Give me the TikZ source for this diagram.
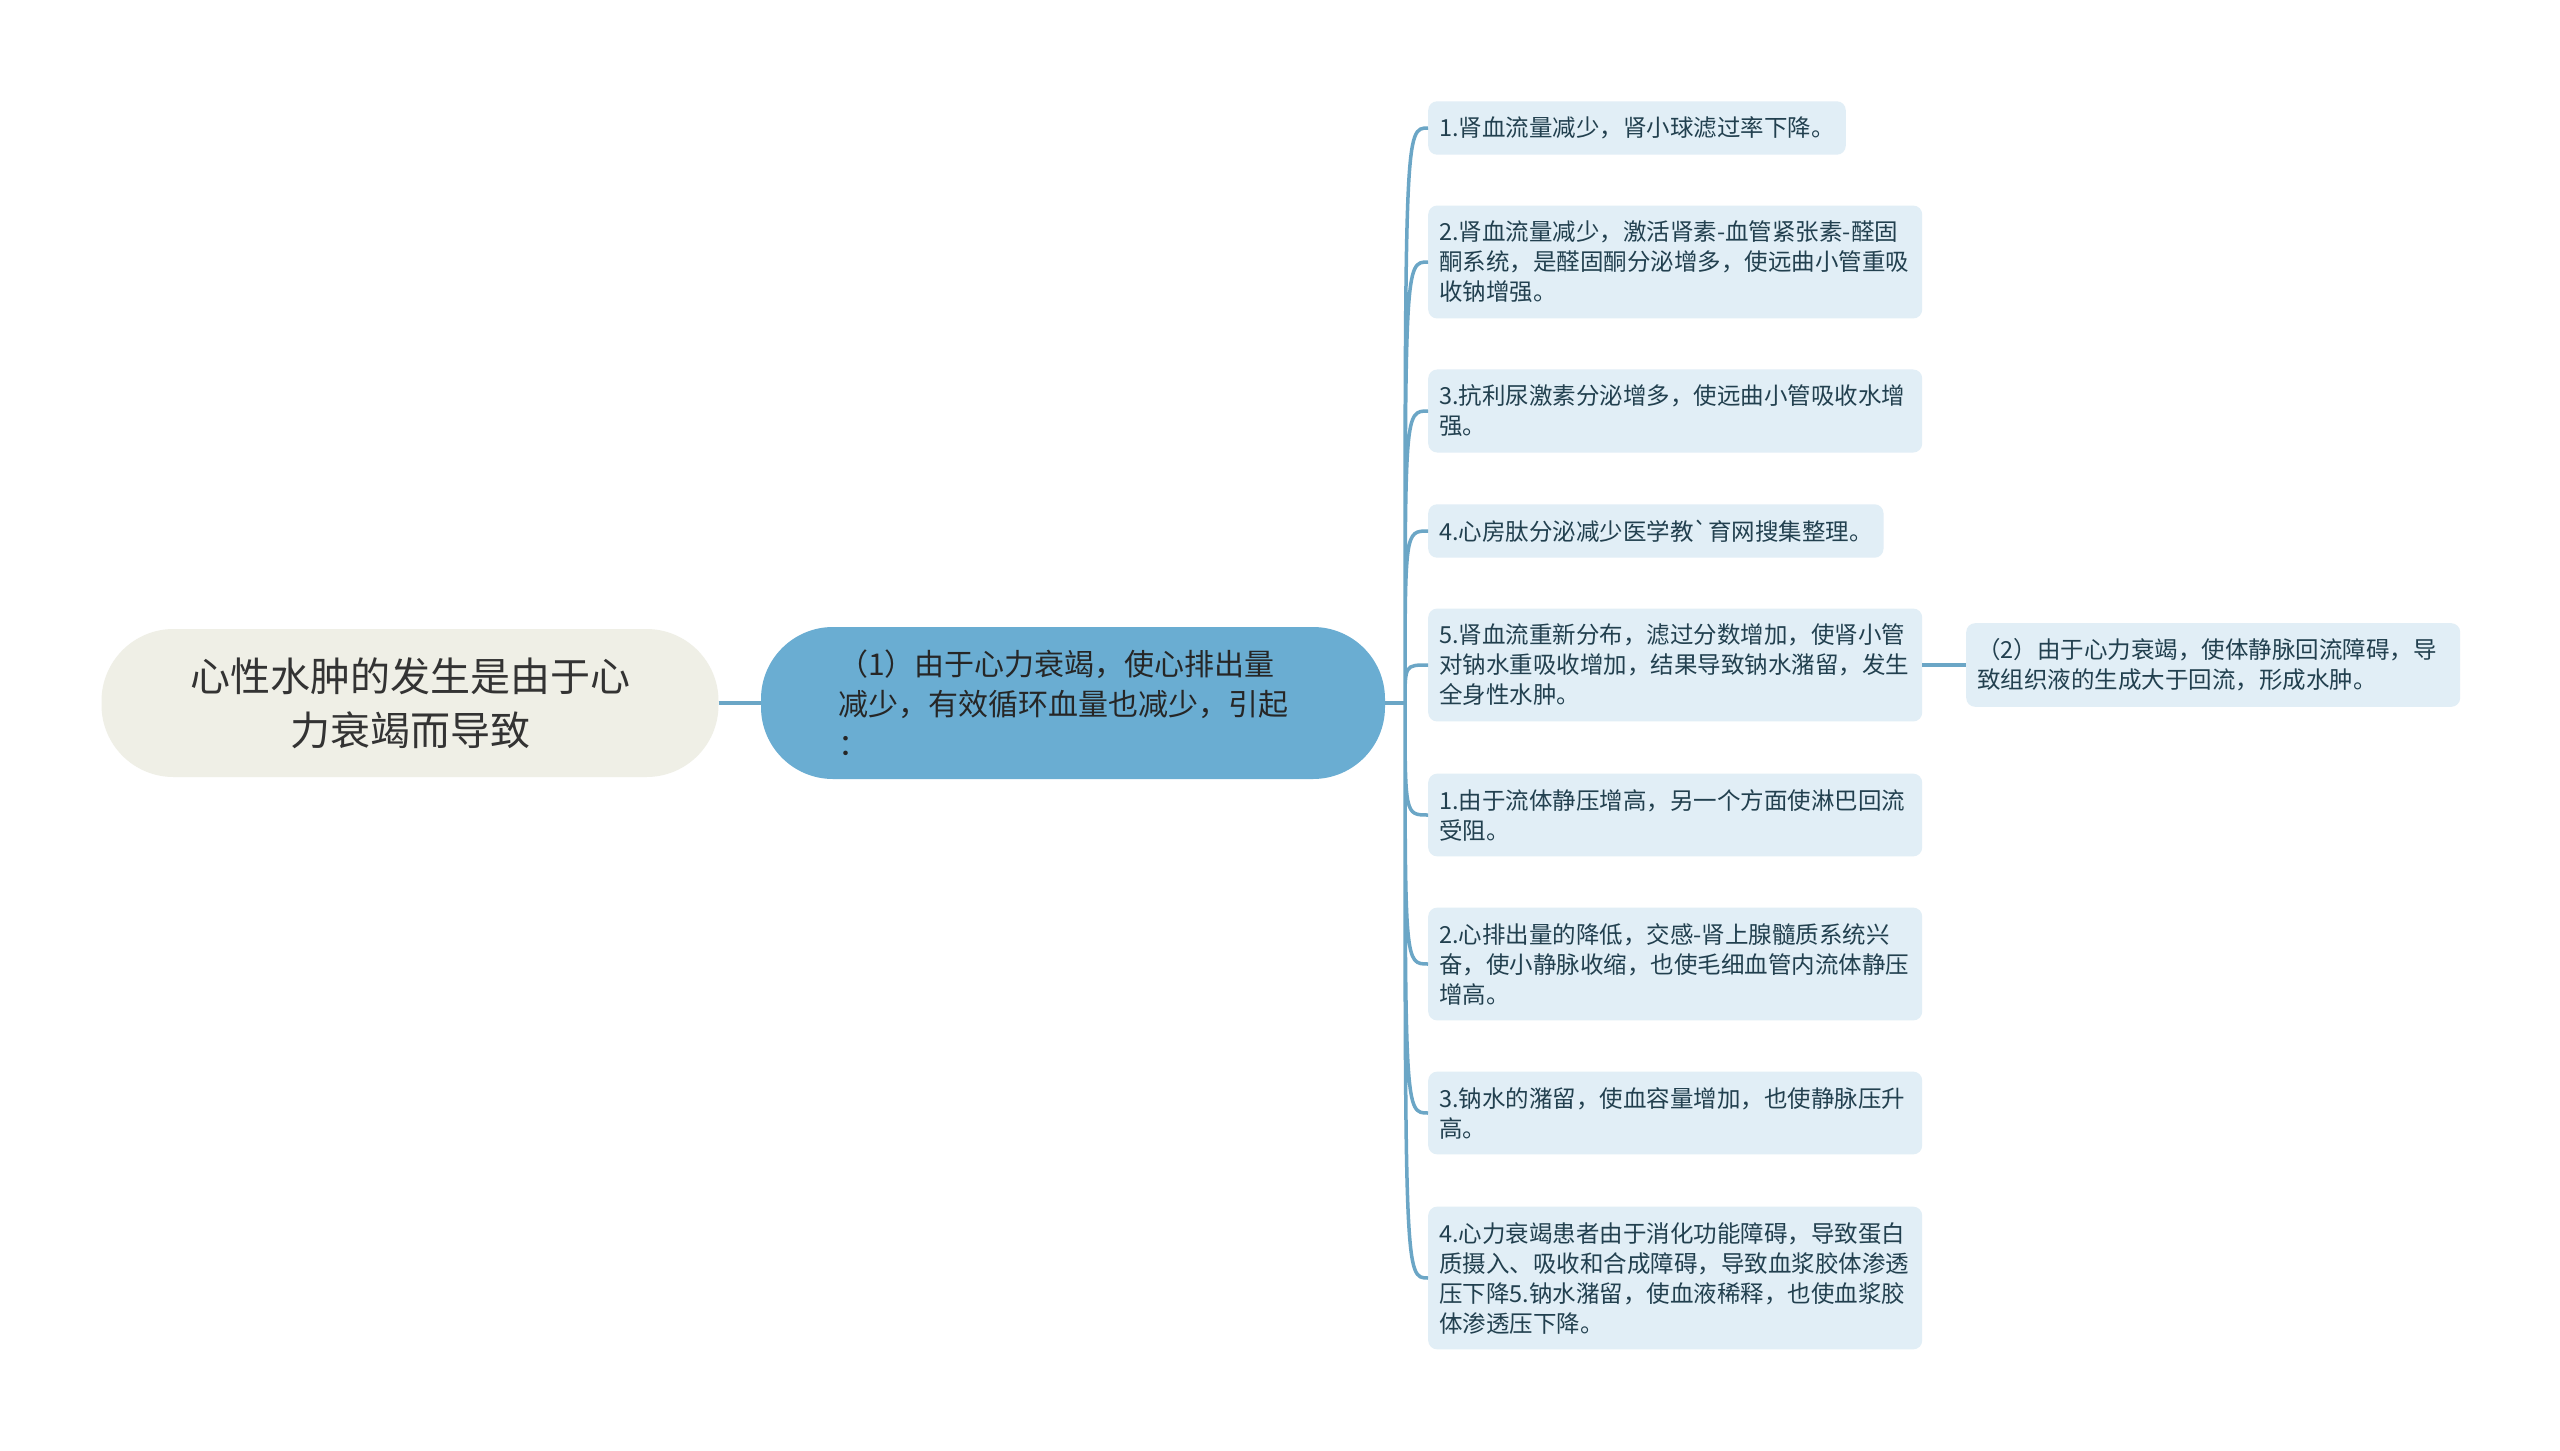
\documentclass[tikz,border=0pt]{standalone}
\usepackage{fontspec}
\setmainfont{Noto Sans CJK SC}
\usetikzlibrary{positioning}
\definecolor{rootfill}{HTML}{EFEFE6}
\definecolor{mainfill}{HTML}{6AADD2}
\definecolor{leaffill}{HTML}{E1EEF6}
\definecolor{linkcol}{HTML}{6BA6C6}
\definecolor{leaftext}{HTML}{22404F}

\begin{document}
\begin{tikzpicture}[x=1pt,y=-1pt,
        rootbox/.style={fill=rootfill, rounded corners=72pt, minimum width=617pt,
            minimum height=148pt, text width=450pt, align=center,
            font=\fontsize{40}{54}\selectfont, text=black!80},
        mainbox/.style={fill=mainfill, rounded corners=72pt, minimum height=152pt,
            text width=470pt, inner xsep=77pt, align=left,
            font=\fontsize{30}{40}\selectfont, text=black!85},
        leaf/.style={fill=leaffill, rounded corners=9pt, anchor=west, align=left,
            inner xsep=11pt, inner ysep=15.5pt,
            font=\fontsize{23.5}{30}\selectfont, text=leaftext},
        wide/.style={text width=472pt},
        link/.style={draw=linkcol, line width=3.5pt}]
        \fill[white] (0,0) rectangle (2560,1451);
        \useasboundingbox (0,0) rectangle (2560,1451);

        \node[rootbox] (root) at (410,703) {心性水肿的发生是由于心\\力衰竭而导致};
        \node[mainbox] (cause) at (1073,703)
            {（1）由于心力衰竭，使心排出量\\减少，有效循环血量也减少，引起\\：};

        \node[leaf] (l1) at (1428,128) {1.肾血流量减少，肾小球滤过率下降。};
        \node[leaf,wide] (l2) at (1428,262)
            {2.肾血流量减少，激活肾素-血管紧张素-醛固\\酮系统，是醛固酮分泌增多，使远曲小管重吸\\收钠增强。};
        \node[leaf,wide] (l3) at (1428,411)
            {3.抗利尿激素分泌增多，使远曲小管吸收水增\\强。};
        \node[leaf] (l4) at (1428,531) {4.心房肽分泌减少医学教\textasciigrave 育网搜集整理。};
        \node[leaf,wide] (l5) at (1428,665)
            {5.肾血流重新分布，滤过分数增加，使肾小管\\对钠水重吸收增加，结果导致钠水潴留，发生\\全身性水肿。};
        \node[leaf,wide] (l6) at (1428,815)
            {1.由于流体静压增高，另一个方面使淋巴回流\\受阻。};
        \node[leaf,wide] (l7) at (1428,964)
            {2.心排出量的降低，交感-肾上腺髓质系统兴\\奋，使小静脉收缩，也使毛细血管内流体静压\\增高。};
        \node[leaf,wide] (l8) at (1428,1113)
            {3.钠水的潴留，使血容量增加，也使静脉压升\\高。};
        \node[leaf,wide] (l9) at (1428,1278)
            {4.心力衰竭患者由于消化功能障碍，导致蛋白\\质摄入、吸收和合成障碍，导致血浆胶体渗透\\压下降5.钠水潴留，使血液稀释，也使血浆胶\\体渗透压下降。};
        \node[leaf,wide] (r1) at (1966,665)
            {（2）由于心力衰竭，使体静脉回流障碍，导\\致组织液的生成大于回流，形成水肿。};

        \coordinate (trunk) at (1405,703);
        \draw[link] (root.east) -- (cause.west);
        \draw[link] (cause.east) -- (trunk);
        \draw[link]
            (trunk) .. controls (trunk |- l1.west) .. (l1.west)
            (trunk) .. controls (trunk |- l2.west) .. (l2.west)
            (trunk) .. controls (trunk |- l3.west) .. (l3.west)
            (trunk) .. controls (trunk |- l4.west) .. (l4.west)
            (trunk) .. controls (trunk |- l5.west) .. (l5.west)
            (trunk) .. controls (trunk |- l6.west) .. (l6.west)
            (trunk) .. controls (trunk |- l7.west) .. (l7.west)
            (trunk) .. controls (trunk |- l8.west) .. (l8.west)
            (trunk) .. controls (trunk |- l9.west) .. (l9.west);
        \draw[link] (l5.east) -- (r1.west);
    \end{tikzpicture}
\end{document}
